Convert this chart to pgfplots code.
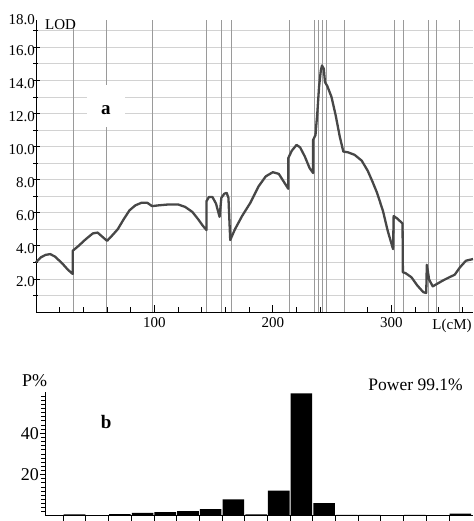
\documentclass[border=0pt]{standalone}
\usepackage{fontspec}
\setmainfont{Liberation Serif}
\usepackage{pgfplots}
\pgfplotsset{compat=1.18}

\definecolor{curvec}{HTML}{474747}
\definecolor{markc}{HTML}{9A9A9A}
\definecolor{gridc}{HTML}{D2D2D2}

\begin{document}
\begin{tikzpicture}
% ---------------- panel a ----------------
\begin{axis}[
  name=top,
  at={(36pt,209pt)}, anchor=south west,
  scale only axis, width=437pt, height=292pt,
  xmin=0, xmax=369, ymin=0, ymax=17.65,
  enlargelimits=false,
  axis lines=left, axis line style={-, black, line width=0.9pt},
  clip=false,
  xtick={100,200,300}, minor xtick={20,40,...,360},
  ytick={2,4,...,16}, minor ytick={1,3,...,17},
  ymajorgrids, yminorgrids,
  major grid style={gridc, line width=0.8pt},
  minor grid style={gridc, line width=0.8pt},
  tick align=inside, major tick length=7pt, minor tick length=5pt,
  tick style={black, line width=0.8pt},
  y tick style={xshift=-3pt},
  xticklabel={\pgfmathprintnumber[assume math mode=true]{\tick}},
  yticklabel={\pgfmathprintnumber[fixed,fixed zerofill,precision=1,assume math mode=true]{\tick}},
  xticklabel style={font=\fontsize{15}{18}\selectfont, yshift=-2pt},
  yticklabel style={font=\fontsize{15}{18}\selectfont, inner sep=1pt, yshift=-3pt},
  extra x ticks={31.2,59.9,98.7,144.3,156.5,165,214,235.2,238.8,242.2,245.6,260.8,302.5,310.3,331.2,338.2,357.8},
  extra x tick labels={},
  extra x tick style={xmajorgrids=true, major grid style={markc, line width=0.9pt}, major tick length=0pt},
]
\node[fill=white, minimum width=38pt, minimum height=42pt, inner sep=0] at (axis cs:59.1,12.45) {};
\node[font=\bfseries\fontsize{19}{20}\selectfont, inner sep=0] at (axis cs:59.1,12.18) {a};
\node[anchor=west, font=\fontsize{15}{18}\selectfont, inner sep=0] at (axis cs:7.6,17.35) {LOD};
\node[anchor=east, font=\fontsize{15}{18}\selectfont, inner sep=1pt] at (rel axis cs:0,1) {18.0};
\node[anchor=east, font=\fontsize{15}{18}\selectfont, inner sep=0] at (axis cs:368,-0.85) {L(cM)};

\addplot[curvec, line width=2.3pt, line join=round] coordinates {
(0,3.0) (4,3.3) (8,3.45) (12,3.5) (16,3.35) (22,2.95) (27,2.55) (31,2.3)
(31,3.7) (36,4.0) (42,4.4) (48,4.75) (52,4.8) (56,4.55) (60,4.3)
(64,4.6) (69,5.0) (74,5.6) (79,6.15) (84,6.45) (89,6.6) (94,6.6) (98,6.4)
(104,6.45) (112,6.5) (120,6.5) (126,6.35) (132,6.05) (137,5.6) (141,5.2) (144,4.95)
(144,6.7) (146,6.95) (149,6.95) (152,6.55) (155,5.75)
(156.5,6.9) (159,7.15) (161,7.2) (162.5,6.9) (164,4.35)
(168,5.0) (174,5.8) (181,6.6) (188,7.6) (194,8.2) (200,8.45) (205,8.35) (209,7.9) (213,7.45)
(213,9.3) (216,9.75) (220,10.1) (223,9.95) (227,9.4) (231,8.7) (234,8.4)
(234,10.4) (236,10.7) (237.5,12.0) (239,13.6) (240.5,14.6) (241.5,14.9) (243,14.7)
(244,13.9) (246,13.65) (249.5,13.0) (253,11.9) (256.5,10.6) (259.5,9.7)
(263.5,9.65) (269,9.5) (275,9.15) (280,8.55) (284,7.9) (288,7.2) (293,6.1) (297,4.9) (301.5,3.8)
(302,5.8) (305,5.65) (309.5,5.35)
(309.8,2.4) (312,2.35) (317,2.1) (322,1.6) (327,1.2) (329.5,1.15)
(330,2.85) (332,1.95) (335,1.55) (343.5,1.9) (349,2.1) (353.5,2.25) (358,2.7) (363,3.1) (369,3.2)
};
\end{axis}

% ---------------- panel b ----------------
\begin{axis}[
  name=bot,
  at={(45pt,5pt)}, anchor=south west,
  scale only axis, width=428pt, height=124.2pt,
  xmin=0.2, xmax=19.06, ymin=0, ymax=60,
  enlargelimits=false,
  axis lines=left, axis line style={-, black, line width=1pt},
  clip=false, axis on top,
  xtick={1,...,18}, xticklabels={},
  ytick={20,40}, minor ytick={2,4,...,58},
  tick align=outside, major tick length=5pt, minor tick length=3.5pt,
  tick style={black, line width=0.8pt},
  yticklabel={\pgfmathprintnumber[assume math mode=true]{\tick}},
  yticklabel style={font=\fontsize{18}{20}\selectfont, inner sep=1pt},
  ybar, bar width=0.95, bar shift=0,
]
\addplot[fill=black, draw=none] coordinates {
(1.5,0.8) (3.5,0.9) (4.5,1.5) (5.5,1.9) (6.5,2.3) (7.5,3.3) (8.5,8.0) (9.5,0.8)
(10.5,12.3) (11.5,59.2) (12.5,6.2) (13.5,0.5) (14.5,0.5) (16.5,0.5) (18.5,1.2)
};
\node[font=\fontsize{18}{20}\selectfont, inner sep=0] at (axis cs:-0.26,65.2) {P\%};
\node[font=\bfseries\fontsize{19}{20}\selectfont, inner sep=0] at (axis cs:2.89,45.4) {b};
\node[font=\fontsize{17.5}{20}\selectfont, inner sep=0] at (axis cs:16.53,63.3) {Power 99.1\%};
\end{axis}

\pgfresetboundingbox
\path[use as bounding box] (0,0) rectangle (473pt,521pt);
\end{tikzpicture}
\end{document}
